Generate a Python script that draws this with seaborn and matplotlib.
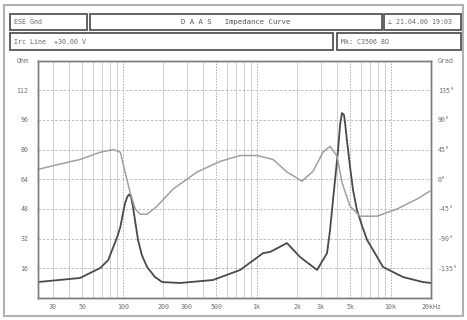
import matplotlib
matplotlib.use("Agg")
import matplotlib.pyplot as plt
from matplotlib.patches import Rectangle
import seaborn as sns
import pandas as pd

# ---- data ----
imp_freq = [23.3, 48, 68, 78, 85, 91, 96, 100, 104, 108, 111.5, 115.5, 119, 124, 130,
            139, 152, 174, 197, 268, 472, 752, 1116, 1258, 1683, 2105, 2820, 3350,
            3527, 3711, 4048, 4188, 4329, 4484, 4566, 4717, 4975, 5236, 5602, 6116,
            6667, 8772, 12350, 17400, 20000]
imp_ohm = [8.6, 10.8, 16.2, 20.5, 27.5, 33.0, 38.3, 45.0, 51.0, 54.5, 55.8, 54.4, 49.5, 41.0, 31.3,
           23.0, 16.7, 11.3, 8.6, 8.1, 9.7, 15.1, 24.2, 24.8, 29.6, 22.1, 15.1, 24.2,
           36.6, 52.8, 79.7, 93.2, 99.7, 98.6, 94.3, 85.0, 70.6, 58.2, 47.4, 38.8,
           31.3, 16.7, 11.3, 8.6, 8.1]

ph_freq = [23.3, 34, 48, 68, 85, 96, 104, 113.5, 124, 135, 152, 180, 237, 359, 532,
           752, 1005, 1324, 1683, 2178, 2632, 3125, 3527, 3980, 4329, 4975, 5900,
           7905, 11170, 15740, 19660]
ph_deg = [15, 23, 30, 41, 45, 41, 11, -20, -45, -53, -53, -41, -15, 11, 27,
          36, 36, 30, 11, -3, 12, 41, 50, 35, -5, -41, -56,
          -56, -45, -30, -18]

x_ticks = [30, 50, 100, 200, 300, 500, 1000, 2000, 3000, 5000, 10000, 20000]
x_labels = ["30", "50", "100", "200", "300", "500", "1k", "2k", "3k", "5k", "10k", "20kHz"]
ohm_ticks = [16, 32, 48, 64, 80, 96, 112, 128]
ohm_labels = ["16", "32", "48", "64", "80", "96", "112", "Ohm"]
deg_ticks = [-135, -90, -45, 0, 45, 90, 135, 180]
deg_labels = ["-135°", "-90°", "-45°", "0°", "45°", "90°", "135°", "Grad"]

header_texts = ["ESE Gnd", "D A A S   Impedance Curve", "⊥ 21.04.00 19:03",
                "Irc Line  +30.00 V", "Mk: C3506 8Ω"]

# ---- figure ----
sns.set_style("white")
plt.rcParams["font.family"] = ["DejaVu Sans Mono", "DejaVu Sans"]
W, H = 467, 320
fig = plt.figure(figsize=(W / 100, H / 100), dpi=100)

def fx(px):
    return px / W

def fy(py):
    return 1 - py / H

ax = fig.add_axes([fx(38), fy(298), fx(431) - fx(38), fy(60.5) - fy(298)])
ax2 = ax.twinx()

imp_df = pd.DataFrame({"freq": imp_freq, "ohm": imp_ohm})
ph_df = pd.DataFrame({"freq": ph_freq, "deg": ph_deg})

ax.set_xscale("log")
ax.set_xlim(23.3, 20000)
ax.set_ylim(0, 128)
ax2.set_ylim(-180, 180)

# grid
grid_c = "#c8c8c8"
for f in [30, 40, 50, 60, 70, 80, 90, 100, 200, 300, 400, 500, 600, 700, 800, 900,
          1000, 2000, 3000, 4000, 5000, 6000, 7000, 8000, 9000, 10000]:
    strong = f in (100, 500, 1000, 5000, 10000)
    ax.axvline(f, color="#a8a8a8" if strong else grid_c, lw=0.7 if strong else 0.6,
               ls=(0, (1.5, 1.5)) if strong else "-", zorder=0)
for o in [16, 32, 48, 64, 80, 96, 112]:
    ax.axhline(o, color="#b4b4b4", lw=0.6, ls=(0, (3, 2)), zorder=0)

sns.lineplot(data=ph_df, x="freq", y="deg", ax=ax2, color="#a0a0a0", lw=1.1,
             sort=True, estimator=None)
sns.lineplot(data=imp_df, x="freq", y="ohm", ax=ax, color="#4a4a4a", lw=1.3,
             sort=True, estimator=None)

ax.set_xlabel("")
ax.set_ylabel("")
ax2.set_ylabel("")

ax.set_xticks(x_ticks)
ax.set_xticklabels(x_labels)
ax.xaxis.set_minor_locator(matplotlib.ticker.NullLocator())
ax.set_yticks(ohm_ticks)
ax.set_yticklabels(ohm_labels)
ax2.set_yticks(deg_ticks)
ax2.set_yticklabels(deg_labels)

lab_c = "#707070"
for a in (ax, ax2):
    a.tick_params(axis="both", which="both", length=0, labelsize=4.8, colors=lab_c)
    for s in a.spines.values():
        s.set_color("#7a7a7a")
        s.set_linewidth(1.0)
ax.tick_params(axis="x", pad=4)
ax.tick_params(axis="y", pad=7)
ax2.tick_params(axis="y", pad=5)
ax2.grid(False)
ax.grid(False)

# outer frame
fig.patches.append(Rectangle((fx(4), fy(316)), fx(463) - fx(4), fy(5) - fy(316),
                             transform=fig.transFigure, fill=False,
                             edgecolor="#b0b0b0", lw=1.5))

# header boxes (x0, y0, x1, y1) in pixels
boxes = [(10, 14, 87, 30), (90, 14, 382, 30), (384, 14, 461, 30),
         (10, 33, 333, 50), (337, 33, 461, 50)]
aligns = ["left", "center", "left", "left", "left"]
for (x0, y0, x1, y1), txt, al in zip(boxes, header_texts, aligns):
    fig.patches.append(Rectangle((fx(x0), fy(y1)), fx(x1) - fx(x0), fy(y0) - fy(y1),
                                 transform=fig.transFigure, fill=False,
                                 edgecolor="#555555", lw=1.3))
    ty = fy((y0 + y1) / 2)
    if al == "center":
        fig.text(fx((x0 + x1) / 2), ty, txt, ha="center", va="center",
                 fontsize=5.2, color="#555555")
    else:
        fig.text(fx(x0 + 4), ty, txt, ha="left", va="center",
                 fontsize=4.8, color="#666666")

fig.savefig("out.png", dpi=100)
